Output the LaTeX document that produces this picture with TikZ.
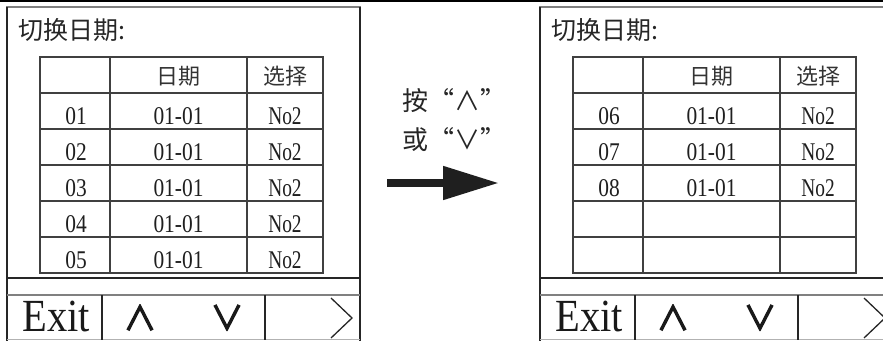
\documentclass[tikz,border=0pt]{standalone}
\usepackage{fontspec}
\setmainfont{Liberation Serif}
\newfontfamily\cjk{Noto Sans CJK SC}
\newfontfamily\cjkkey[FakeBold=3.5]{Noto Sans CJK SC}
\usetikzlibrary{arrows.meta}
\newcommand\condtxt[2]{\scalebox{#1}[1]{#2}}
\tikzset{
  frameline/.style={line width=1.3pt, draw=black!85},
  grayline/.style={line width=1.8pt, draw=black!50},
  lightline/.style={line width=1pt, draw=black!30},
  tabline/.style={line width=1.2pt, draw=black!75},
  cell/.style={inner sep=0pt, anchor=base, text=black!88, font=\fontsize{25.5}{25.5}\selectfont},
  headcell/.style={inner sep=0pt, text=black!80, font=\cjk\fontsize{22}{22}\selectfont},
  titletext/.style={inner sep=0pt, anchor=west, text=black!85, font=\cjk\fontsize{25}{25}\selectfont},
  exittext/.style={inner sep=0pt, anchor=base, text=black!90, font=\fontsize{46}{46}\selectfont},
  keytext/.style={inner sep=0pt, anchor=base, text=black!90, font=\cjkkey\fontsize{33}{33}\selectfont},
  notetext/.style={inner sep=0pt, anchor=west, text=black!85, font=\cjk\fontsize{26}{26}\selectfont},
  bigarrow/.style={line width=8pt, draw=black!88, -{Triangle[length=56pt, width=32pt]}},
}
\begin{document}
\begin{tikzpicture}[x=1pt, y=-1pt]
\useasboundingbox (0,0) rectangle (883,340);
\draw[line width=1.6pt, draw=black] (0,0.8) -- (883,0.8);

\foreach \ox/\pn in {0/L, 533/R} {
  \begin{scope}[xshift=\ox pt]
    % frame
    \draw[grayline] (6,7) -- (361,7);
    \draw[frameline] (7,7) -- (7,341);
    \draw[frameline] (360,7) -- (360,341);
    \draw[frameline] (7,278) -- (360,278);
    \draw[grayline] (7,295) -- (360,295);
    \draw[lightline] (7,339.5) -- (360,339.5);
    \draw[frameline] (102,295) -- (102,340);
    \draw[frameline] (265,295) -- (265,340);
    % table
    \draw[tabline] (40,57) rectangle (323,273);
    \draw[tabline] (110,57) -- (110,273);
    \draw[tabline] (247,57) -- (247,273);
    \foreach \yy in {93,129,165,201,237} {
      \draw[tabline] (40,\yy) -- (323,\yy);
    }
    % texts
    \node[titletext] (\pn-title) at (18,30) {切换日期:};
    \node[headcell] (\pn-hdate) at (178.5,76) {日期};
    \node[headcell] (\pn-hsel) at (285,76) {选择};
    \node[exittext] (\pn-exit) at (56,331) {\condtxt{0.88}{Exit}};
    \node[keytext] (\pn-up) at (140,330) {∧};
    \node[keytext] (\pn-down) at (227,330) {∨};
    \draw[line width=1.3pt, draw=black!85] (331,298) -- (352,318) -- (331,338);
  \end{scope}
}

% left table rows
\foreach \i/\num in {0/01,1/02,2/03,3/04,4/05} {
  \node[cell] (L-n\i) at (76,124+36*\i) {\condtxt{0.84}{\num}};
  \node[cell] (L-d\i) at (178.5,124+36*\i) {\condtxt{0.84}{01-01}};
  \node[cell] (L-s\i) at (285,124+36*\i) {\condtxt{0.76}{No2}};
}
% right table rows
\foreach \i/\num in {0/06,1/07,2/08} {
  \node[cell] (R-n\i) at (609,124+36*\i) {\condtxt{0.84}{\num}};
  \node[cell] (R-d\i) at (711.5,124+36*\i) {\condtxt{0.84}{01-01}};
  \node[cell] (R-s\i) at (818,124+36*\i) {\condtxt{0.76}{No2}};
}

% middle note and arrow
\node[notetext] (note1) at (402,101) {按“∧”};
\node[notetext] (note2) at (402,140) {或“∨”};
\coordinate (arrS) at (387,183);
\coordinate (arrE) at (499,183);
\draw[bigarrow] (arrS) -- (arrE);
\end{tikzpicture}
\end{document}
